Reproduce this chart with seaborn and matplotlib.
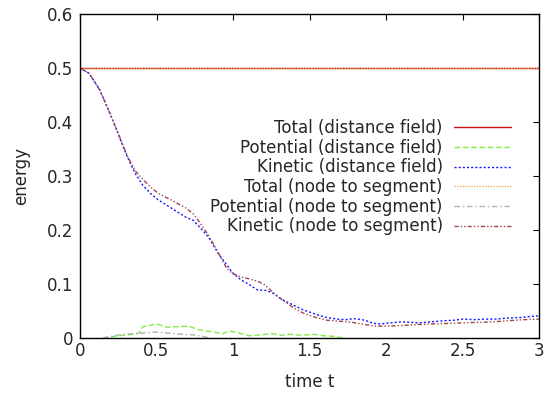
import numpy as np
import pandas as pd
import matplotlib
matplotlib.use("Agg")
import matplotlib.pyplot as plt
import seaborn as sns

# ---- data ----
t_total = [0.0, 0.5, 1.0, 1.5, 2.0, 2.5, 3.0]
total_df = [0.5, 0.5, 0.5, 0.5, 0.5, 0.5, 0.5]
total_ns = [0.5, 0.5, 0.5, 0.5, 0.5, 0.5, 0.5]

t_pot_df = [0.15, 0.25, 0.35, 0.39, 0.41, 0.45, 0.50, 0.57, 0.63, 0.71, 0.78,
            0.85, 0.93, 0.98, 1.04, 1.11, 1.18, 1.26, 1.32, 1.37, 1.45, 1.52,
            1.60, 1.66, 1.72]
pot_df = [0.000, 0.004, 0.007, 0.010, 0.021, 0.023, 0.026, 0.020, 0.021, 0.022,
          0.015, 0.012, 0.008, 0.013, 0.009, 0.004, 0.006, 0.008, 0.005, 0.007,
          0.005, 0.007, 0.004, 0.003, 0.000]

t_kin_df = [0.00, 0.06, 0.13, 0.20, 0.26, 0.31, 0.36, 0.41, 0.46, 0.51, 0.60,
            0.69, 0.74, 0.78, 0.84, 0.90, 0.96, 1.00, 1.05, 1.10, 1.16, 1.22,
            1.26, 1.33, 1.40, 1.46, 1.55, 1.61, 1.68, 1.74, 1.79, 1.86, 1.92,
            1.96, 2.03, 2.10, 2.16, 2.22, 2.30, 2.38, 2.45, 2.50, 2.58, 2.65,
            2.72, 2.80, 2.88, 2.95, 3.00]
kin_df = [0.500, 0.490, 0.459, 0.413, 0.370, 0.335, 0.305, 0.283, 0.268, 0.256,
          0.240, 0.224, 0.218, 0.206, 0.187, 0.158, 0.135, 0.120, 0.108, 0.100,
          0.089, 0.088, 0.083, 0.070, 0.060, 0.052, 0.043, 0.038, 0.035, 0.034,
          0.036, 0.033, 0.027, 0.026, 0.028, 0.030, 0.029, 0.028, 0.030, 0.032,
          0.033, 0.035, 0.034, 0.035, 0.035, 0.037, 0.038, 0.040, 0.041]

t_pot_ns = [0.15, 0.22, 0.28, 0.38, 0.45, 0.50, 0.58, 0.66, 0.74, 0.80, 0.85]
pot_ns = [0.000, 0.004, 0.007, 0.008, 0.010, 0.011, 0.009, 0.007, 0.006, 0.003, 0.000]

t_kin_ns = [0.00, 0.06, 0.13, 0.20, 0.26, 0.31, 0.36, 0.41, 0.46, 0.51, 0.60,
            0.69, 0.74, 0.78, 0.84, 0.90, 0.96, 1.00, 1.05, 1.10, 1.16, 1.20,
            1.24, 1.30, 1.35, 1.40, 1.46, 1.53, 1.61, 1.70, 1.78, 1.86, 1.93,
            2.00, 2.10, 2.20, 2.30, 2.40, 2.50, 2.60, 2.70, 2.80, 2.90, 3.00]
kin_ns = [0.500, 0.490, 0.459, 0.413, 0.372, 0.337, 0.310, 0.294, 0.280, 0.268,
          0.255, 0.241, 0.230, 0.215, 0.190, 0.160, 0.128, 0.119, 0.113, 0.110,
          0.105, 0.100, 0.090, 0.075, 0.065, 0.055, 0.046, 0.039, 0.033, 0.031,
          0.029, 0.025, 0.022, 0.022, 0.023, 0.025, 0.026, 0.027, 0.028, 0.029,
          0.030, 0.032, 0.034, 0.035]

labels = ["Total (distance field)", "Potential (distance field)",
          "Kinetic (distance field)", "Total (node to segment)",
          "Potential (node to segment)", "Kinetic (node to segment)"]
x_ticks = [0, 0.5, 1, 1.5, 2, 2.5, 3]
x_ticklabels = ["0", "0.5", "1", "1.5", "2", "2.5", "3"]
y_ticks = [0, 0.1, 0.2, 0.3, 0.4, 0.5, 0.6]
y_ticklabels = ["0", "0.1", "0.2", "0.3", "0.4", "0.5", "0.6"]

# ---- plotting ----
sns.set_style("white")
plt.rcParams["font.family"] = ["DejaVu Sans"]
FS = 12

fig = plt.figure(figsize=(5.52, 3.97), dpi=100)
ax = fig.add_axes([80 / 552, 1 - 338 / 397, (539 - 80) / 552, (338 - 14) / 397])

series = [
    (t_total, total_df, labels[0], "#c81414", "-"),
    (t_pot_df, pot_df, labels[1], "#80f040", (0, (4, 2))),
    (t_kin_df, kin_df, labels[2], "#1a1aff", (0, (1.5, 1.5))),
    (t_total, total_ns, labels[3], "#f0b060", (0, (1, 1))),
    (t_pot_ns, pot_ns, labels[4], "#b0b0b0", (0, (4, 2, 1, 2))),
    (t_kin_ns, kin_ns, labels[5], "#a04848", (0, (3, 1.5, 1, 1.5, 1, 1.5))),
]
for tx, vy, lab, col, ls in series:
    df = pd.DataFrame({"t": tx, "v": vy})
    sns.lineplot(data=df, x="t", y="v", ax=ax, color=col, linestyle=ls,
                 linewidth=1.0, label=lab, estimator=None)

ax.set_xlim(0, 3)
ax.set_ylim(0, 0.6)
ax.set_xticks(x_ticks)
ax.set_xticklabels(x_ticklabels)
ax.set_yticks(y_ticks)
ax.set_yticklabels(y_ticklabels)
ax.set_xlabel("time t", fontsize=FS, labelpad=9)
ax.set_ylabel("energy", fontsize=FS, labelpad=12)
ax.tick_params(axis="both", which="both", direction="in", length=4.5, width=0.8,
               top=True, right=True, labelsize=FS, color="black")
ax.tick_params(axis="x", pad=3)
ax.tick_params(axis="y", pad=5)
for sp in ax.spines.values():
    sp.set_visible(True)
    sp.set_color("black")
    sp.set_linewidth(1.0)

ax.legend(loc="upper right", bbox_to_anchor=((511 - 80) / 459, (338 - 119) / 324),
          frameon=False, markerfirst=False, handlelength=3.4, handletextpad=0.7,
          labelspacing=0.10, borderpad=0, borderaxespad=0, fontsize=FS)

fig.savefig("out.png", dpi=100)
